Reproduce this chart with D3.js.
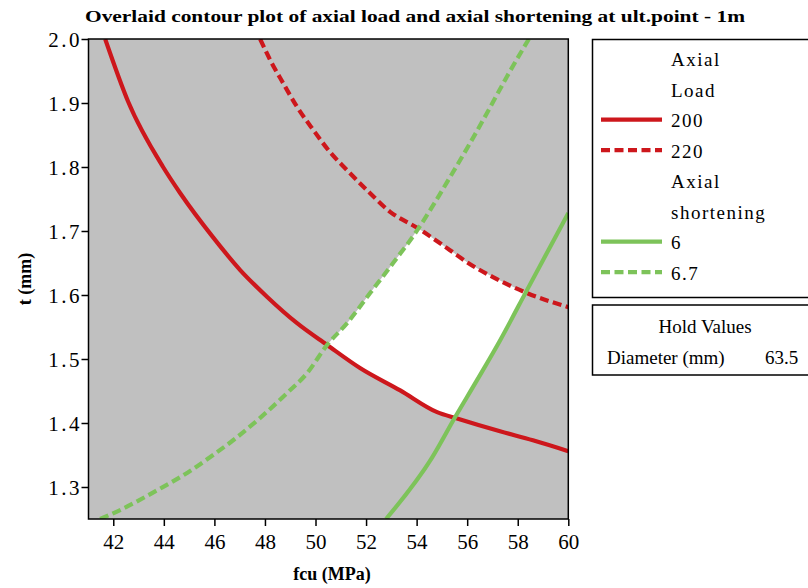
<!DOCTYPE html>
<html>
<head>
<meta charset="utf-8">
<script src="https://cdn.jsdelivr.net/npm/d3@7"></script>
<style>
  html, body { margin: 0; padding: 0; background: #fff; }
  svg { display: block; }
</style>
</head>
<body>
<svg id="chart" width="808" height="588"></svg>
<script>
// Axis ranges and ticks
const fcuRange = [41.02, 60];
const tRange = [1.25, 2.0];
const fcuTicks = [42, 44, 46, 48, 50, 52, 54, 56, 58, 60];
const tTicks = [1.3, 1.4, 1.5, 1.6, 1.7, 1.8, 1.9, 2.0];

// Contour lines as [fcu, t] pairs
const load200 = [[41.68,2.0],[42.59,1.902],[43.97,1.800],[44.65,1.759],[45.95,1.690],[47.02,1.639],
  [48.09,1.597],[49.27,1.556],[50.46,1.522],[51.76,1.486],[53.35,1.451],[54.81,1.417],[55.60,1.407],
  [57.30,1.387],[58.60,1.373],[60.0,1.356]];
const load220 = [[47.81,2.0],[48.21,1.967],[48.72,1.931],[49.27,1.894],[49.91,1.858],[50.58,1.823],
  [51.25,1.795],[52.16,1.759],[52.95,1.730],[54.02,1.705],[55.32,1.670],[56.00,1.651],[57.02,1.628],
  [58.37,1.603],[60.0,1.581]];
const short6 = [[52.79,1.25],[54.61,1.346],[55.52,1.409],[56.39,1.467],[57.30,1.529],[58.37,1.608],[60.0,1.728]];
const short67 = [[41.48,1.25],[42.27,1.264],[43.74,1.295],[44.92,1.322],[45.95,1.350],[46.74,1.373],
  [47.81,1.408],[48.88,1.447],[49.67,1.478],[50.46,1.522],[51.25,1.556],[52.16,1.603],[53.07,1.650],
  [54.02,1.701],[54.65,1.740],[55.32,1.784],[56.11,1.837],[56.78,1.884],[57.57,1.941],[58.44,2.0]];

// Legend entries
const legendGroups = [
  { title: ["Axial", "Load"], items: [
    { label: "200", color: "#cd171c", dash: null },
    { label: "220", color: "#cd171c", dash: "9,4.5" } ] },
  { title: ["Axial", "shortening"], items: [
    { label: "6", color: "#7dc35a", dash: null },
    { label: "6.7", color: "#7dc35a", dash: "9,4.5" } ] }
];
const holdLabel = "Diameter (mm)";
const holdValue = "63.5";

const SERIF = "font-family: 'Liberation Serif', 'Times New Roman', serif;";

const svg = d3.select("#chart");
const plot = { left: 88.5, top: 39, right: 568.3, bottom: 519 };

const x = d3.scaleLinear().domain(fcuRange).range([plot.left, plot.right]);
const y = d3.scaleLinear().domain(tRange).range([plot.bottom, plot.top]);

const line = d3.line().x(d => x(d[0])).y(d => y(d[1])).curve(d3.curveMonotoneX);

function label(parent, txt, size, bold) {
  return parent.append("text")
    .attr("style", SERIF + `font-size:${size}px;` + (bold ? "font-weight:bold;" : ""))
    .attr("fill", "#000")
    .text(txt);
}
// Open the text up a little by stretching the gaps between glyphs
function spread(sel, perGap) {
  sel.each(function () {
    const n = this.textContent.length;
    if (n < 2) return;
    const w = this.getComputedTextLength();
    d3.select(this).attr("textLength", w + perGap * (n - 1)).attr("lengthAdjust", "spacing");
  });
  return sel;
}

// Title
label(svg, "Overlaid contour plot of axial load and axial shortening at ult.point - 1m", 17, true)
  .attr("x", 85).attr("y", 22)
  .attr("textLength", 660).attr("lengthAdjust", "spacingAndGlyphs");

// Plot background
svg.append("rect")
  .attr("x", plot.left).attr("y", plot.top)
  .attr("width", plot.right - plot.left).attr("height", plot.bottom - plot.top)
  .attr("fill", "#c0c0c0");

// Feasible region: between the two load contours and between the two shortening contours
const defs = svg.append("defs");
const corner = (fx, ty) => `L${x(fx)},${y(ty)}`;
const regions = [
  { id: "aboveLoad200", d: line(load200) + corner(60, 2.0) + "Z" },
  { id: "belowLoad220", d: line(load220) + corner(60, 1.25) + corner(fcuRange[0], 1.25) + corner(fcuRange[0], 2.0) + "Z" },
  { id: "rightOfShort67", d: line(short67) + corner(60, 2.0) + corner(60, 1.25) + "Z" },
  { id: "leftOfShort6", d: line(short6) + corner(60, 2.0) + corner(fcuRange[0], 2.0) + corner(fcuRange[0], 1.25) + "Z" }
];
regions.forEach(r => defs.append("clipPath").attr("id", r.id).append("path").attr("d", r.d));

let g = svg.append("g");
regions.forEach(r => { g = g.attr("clip-path", `url(#${r.id})`).append("g"); });
g.append("rect")
  .attr("x", plot.left).attr("y", plot.top)
  .attr("width", plot.right - plot.left).attr("height", plot.bottom - plot.top)
  .attr("fill", "#ffffff");

// Contour lines
defs.append("clipPath").attr("id", "plotArea").append("rect")
  .attr("x", plot.left).attr("y", plot.top)
  .attr("width", plot.right - plot.left).attr("height", plot.bottom - plot.top);
const lines = svg.append("g").attr("clip-path", "url(#plotArea)");
const contours = [
  { data: load200, color: "#cd171c", dash: null },
  { data: load220, color: "#cd171c", dash: "9,4.5" },
  { data: short6, color: "#7dc35a", dash: null },
  { data: short67, color: "#7dc35a", dash: "9,4.5" }
];
contours.forEach(c => {
  lines.append("path")
    .attr("d", line(c.data))
    .attr("fill", "none")
    .attr("stroke", c.color)
    .attr("stroke-width", 4.2)
    .attr("stroke-dasharray", c.dash);
});

// Frame
svg.append("rect")
  .attr("x", plot.left).attr("y", plot.top)
  .attr("width", plot.right - plot.left).attr("height", plot.bottom - plot.top)
  .attr("fill", "none").attr("stroke", "#000").attr("stroke-width", 1.5);

// Axes
const xAxis = svg.append("g")
  .attr("transform", `translate(0,${plot.bottom})`)
  .call(d3.axisBottom(x).tickValues(fcuTicks).tickSize(7).tickSizeOuter(0).tickFormat(d3.format("d")));
const yAxis = svg.append("g")
  .attr("transform", `translate(${plot.left},0)`)
  .call(d3.axisLeft(y).tickValues(tTicks).tickSize(7).tickSizeOuter(0).tickFormat(d3.format(".1f")));
[xAxis, yAxis].forEach(a => {
  a.attr("font-family", null).attr("font-size", null);
  a.select(".domain").remove();
  a.selectAll(".tick line").attr("stroke", "#000").attr("stroke-width", 1.5);
  a.selectAll(".tick text")
    .attr("style", SERIF + "font-size:21px;")
    .attr("fill", "#000");
});
xAxis.selectAll(".tick text").attr("dy", null).attr("y", 30);
spread(yAxis.selectAll(".tick text").attr("x", -9).attr("dy", "0.35em"), 2.5);

// Axis titles
label(svg, "fcu (MPa)", 18, true)
  .attr("x", x(50.65)).attr("y", 580)
  .attr("text-anchor", "middle");
label(svg, "t (mm)", 18, true)
  .attr("transform", `translate(31,${279}) rotate(-90)`)
  .attr("text-anchor", "middle");

// Legend box
const lg = svg.append("g");
lg.append("rect")
  .attr("x", 592.5).attr("y", 39.5).attr("width", 230).attr("height", 258)
  .attr("fill", "#fff").attr("stroke", "#000").attr("stroke-width", 1.5);
let rowY = 66;
const rowStep = 30.5;
legendGroups.forEach(grp => {
  grp.title.forEach(t => {
    spread(label(lg, t, 19).attr("x", 671).attr("y", rowY), 1.5);
    rowY += rowStep;
  });
  grp.items.forEach(it => {
    lg.append("line")
      .attr("x1", 601).attr("x2", 662)
      .attr("y1", rowY - 7.3).attr("y2", rowY - 7.3)
      .attr("stroke", it.color).attr("stroke-width", 4.2)
      .attr("stroke-dasharray", it.dash);
    spread(label(lg, it.label, 19).attr("x", 671).attr("y", rowY), 1.5);
    rowY += rowStep;
  });
});

// Hold values box
const hg = svg.append("g");
hg.append("rect")
  .attr("x", 592.5).attr("y", 305).attr("width", 230).attr("height", 70)
  .attr("fill", "#fff").attr("stroke", "#000").attr("stroke-width", 1.5);
label(hg, "Hold Values", 19).attr("x", 705).attr("y", 333).attr("text-anchor", "middle");
label(hg, holdLabel, 19).attr("x", 607).attr("y", 364);
label(hg, holdValue, 19).attr("x", 765).attr("y", 364);
</script>
</body>
</html>
